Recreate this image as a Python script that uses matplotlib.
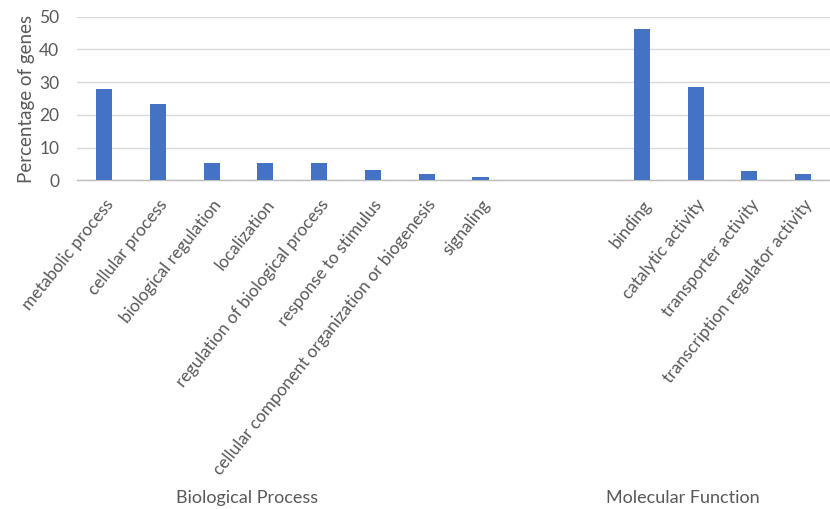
import matplotlib
matplotlib.use("Agg")
import matplotlib.pyplot as plt
import matplotlib.transforms as mtransforms
import numpy as np

# data
bp_labels = ["metabolic process", "cellular process", "biological regulation",
             "localization", "regulation of biological process",
             "response to stimulus",
             "cellular component organization or biogenesis", "signaling"]
bp_values = [28.0, 23.3, 5.4, 5.4, 5.4, 3.1, 2.0, 1.0]

mf_labels = ["binding", "catalytic activity", "transporter activity",
             "transcription regulator activity"]
mf_values = [46.3, 28.4, 2.9, 2.0]

groups = ["Biological Process", "Molecular Function"]

BAR_COLOR = "#4472C4"
TEXT_COLOR = "#595959"
GAP = 2  # empty category slots between the two groups

plt.rcParams["font.family"] = ["Lato", "DejaVu Sans"]

bp_x = np.arange(len(bp_values))
mf_x = len(bp_values) + GAP + np.arange(len(mf_values))

fig = plt.figure(figsize=(8.3, 5.09), dpi=100)
ax = fig.add_axes([0.093, 0.646, 0.907, 0.321])

ax.bar(bp_x, bp_values, width=0.3, color=BAR_COLOR, zorder=3)
ax.bar(mf_x, mf_values, width=0.3, color=BAR_COLOR, zorder=3)

ax.set_xlim(-0.5, len(bp_values) + GAP + len(mf_values) - 0.5)
ax.set_ylim(0, 50)
ax.set_yticks(np.arange(0, 51, 10))
ax.yaxis.grid(True, color="#D9D9D9", linewidth=1.0, zorder=0)
ax.set_axisbelow(True)

for side in ["top", "right", "left"]:
    ax.spines[side].set_visible(False)
ax.spines["bottom"].set_color("#BFBFBF")
ax.spines["bottom"].set_linewidth(1.0)

ax.set_xticks(np.concatenate([bp_x, mf_x]))
ax.set_xticklabels(bp_labels + mf_labels, rotation=51.5, ha="right",
                   rotation_mode="anchor", fontsize=12.4, color=TEXT_COLOR)
ax.tick_params(axis="x", length=0, pad=12)
ax.tick_params(axis="y", length=0, labelsize=12.5, labelcolor=TEXT_COLOR, pad=13)

ax.set_ylabel("Percentage of genes", fontsize=13.5, color=TEXT_COLOR, labelpad=3)

# group captions at the foot of the figure
trans = mtransforms.blended_transform_factory(ax.transData, fig.transFigure)
ax.text(2.65, 0.022, groups[0], transform=trans, ha="center", va="center",
        fontsize=13, color=TEXT_COLOR)
ax.text(10.76, 0.022, groups[1], transform=trans, ha="center", va="center",
        fontsize=13, color=TEXT_COLOR)

fig.savefig("out.png", dpi=100)
